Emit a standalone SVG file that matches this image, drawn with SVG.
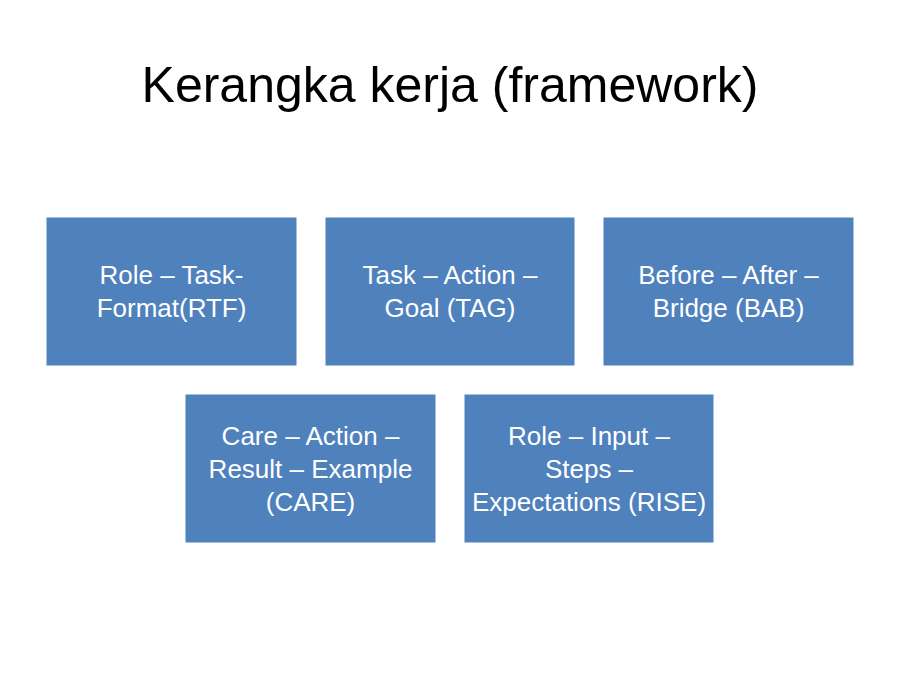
<svg xmlns="http://www.w3.org/2000/svg" width="900" height="675" viewBox="0 0 900 675">
<style>
.box{fill:#4F81BD;stroke:#FFFFFF;stroke-width:1}
.lbl{font-family:"Liberation Sans",Arial,sans-serif;font-size:26px;fill:#FFFFFF;text-anchor:middle}
.title{font-family:"Liberation Sans",Arial,sans-serif;font-size:50px;fill:#000000;text-anchor:middle}
</style>
<rect width="900" height="675" fill="#FFFFFF"/>
<text class="title" x="450" y="102">Kerangka kerja (framework)</text>
<g id="connectors"></g>
<g id="rtf">
<rect class="box" x="46" y="217" width="251" height="149"/>
<text class="lbl" x="171.5" y="284">Role – Task-</text>
<text class="lbl" x="171.5" y="317">Format(RTF)</text>
</g>
<g id="tag">
<rect class="box" x="325" y="217" width="250" height="149"/>
<text class="lbl" x="450" y="284">Task – Action –</text>
<text class="lbl" x="450" y="317">Goal (TAG)</text>
</g>
<g id="bab">
<rect class="box" x="603" y="217" width="251" height="149"/>
<text class="lbl" x="728.5" y="284">Before – After –</text>
<text class="lbl" x="728.5" y="317">Bridge (BAB)</text>
</g>
<g id="care">
<rect class="box" x="185" y="394" width="251" height="149"/>
<text class="lbl" x="310.5" y="445">Care – Action –</text>
<text class="lbl" x="310.5" y="478">Result – Example</text>
<text class="lbl" x="310.5" y="511">(CARE)</text>
</g>
<g id="rise">
<rect class="box" x="464" y="394" width="250" height="149"/>
<text class="lbl" x="589" y="445">Role – Input –</text>
<text class="lbl" x="589" y="478">Steps –</text>
<text class="lbl" x="589" y="511">Expectations (RISE)</text>
</g>
</svg>
